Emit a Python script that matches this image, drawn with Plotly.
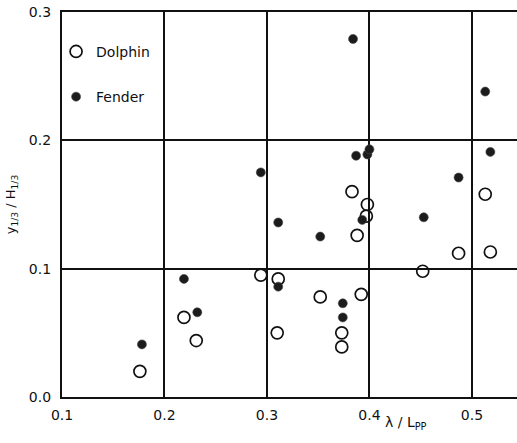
import plotly.graph_objects as go

# wave length ratio λ/Lpp and significant motion ratio y1/3 / H1/3
dolphin_x = [0.176, 0.219, 0.231, 0.294, 0.311, 0.310, 0.352, 0.373, 0.373,
             0.383, 0.388, 0.392, 0.397, 0.398, 0.452, 0.487, 0.513, 0.518]
dolphin_y = [0.020, 0.062, 0.044, 0.095, 0.092, 0.050, 0.078, 0.050, 0.039,
             0.160, 0.126, 0.080, 0.141, 0.150, 0.098, 0.112, 0.158, 0.113]

fender_x = [0.178, 0.219, 0.232, 0.294, 0.311, 0.311, 0.352, 0.374, 0.374,
            0.384, 0.387, 0.393, 0.398, 0.400, 0.453, 0.487, 0.513, 0.518]
fender_y = [0.041, 0.092, 0.066, 0.175, 0.136, 0.086, 0.125, 0.073, 0.062,
            0.279, 0.188, 0.138, 0.189, 0.193, 0.140, 0.171, 0.238, 0.191]

x_ticks = [0.1, 0.2, 0.3, 0.4, 0.5]
y_ticks = [0.0, 0.1, 0.2, 0.3]

FONT = "DejaVu Sans"
INK = "#111111"

fig = go.Figure()
fig.add_trace(go.Scatter(
    x=dolphin_x, y=dolphin_y, mode="markers", name="Dolphin",
    legendgroup="d",
    marker=dict(symbol="circle-open", size=12, color=INK, line=dict(width=1.7)),
))
fig.add_trace(go.Scatter(
    x=fender_x, y=fender_y, mode="markers", name="Fender",
    legendgroup="f",
    marker=dict(symbol="circle", size=9, color="#1c1c1c",
                line=dict(width=0.6, color="#444444")),
))

fig.update_layout(
    width=517, height=443,
    margin=dict(l=62, r=0, t=12, b=46),
    paper_bgcolor="white", plot_bgcolor="white",
    font=dict(family=FONT, size=14, color=INK),
    showlegend=True,
    legend=dict(
        x=-0.013, y=0.938, xanchor="left", yanchor="top",
        bgcolor="rgba(0,0,0,0)", borderwidth=0,
        font=dict(family=FONT, size=14, color=INK),
        tracegroupgap=24, itemwidth=30,
    ),
    xaxis=dict(
        range=[0.1, 0.544], tickvals=x_ticks,
        ticktext=[f"{v:.1f}" for v in x_ticks],
        tickfont=dict(family=FONT, size=14, color=INK),
        showgrid=True, gridcolor=INK, gridwidth=1.6,
        showline=True, linecolor=INK, linewidth=2, mirror=True,
        zeroline=False, ticks="", ticklabelstandoff=4,
    ),
    yaxis=dict(
        range=[0, 0.3], tickvals=y_ticks,
        ticktext=[f"{v:.1f}" for v in y_ticks],
        tickfont=dict(family=FONT, size=14, color=INK),
        showgrid=True, gridcolor=INK, gridwidth=1.6,
        showline=True, linecolor=INK, linewidth=2.2,
        zeroline=False, ticks="", ticklabelstandoff=6,
        title=dict(text="y<sub>1/3</sub> / H<sub>1/3</sub>",
                   font=dict(family=FONT, size=13, color=INK), standoff=10),
    ),
)

fig.add_annotation(
    x=0.436, y=-0.095, xref="x", yref="paper",
    text="λ / L<sub>PP</sub>", showarrow=False,
    font=dict(family=FONT, size=14, color=INK),
)

fig.write_html("out.html")
